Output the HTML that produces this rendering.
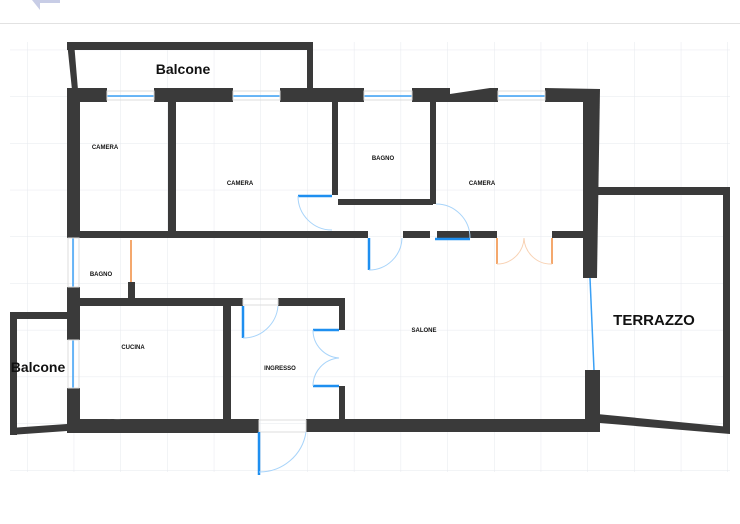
<!DOCTYPE html>
<html><head><style>
html,body{margin:0;padding:0;background:#fff;}
svg{display:block;}
.t{font-family:"Liberation Sans",sans-serif;font-weight:bold;fill:#111;text-anchor:middle;}
.s{font-size:6px;}
</style></head><body>
<svg width="740" height="524" viewBox="0 0 740 524" xmlns="http://www.w3.org/2000/svg">
<defs>
<pattern id="g" x="27" y="3" width="46.7" height="46.7" patternUnits="userSpaceOnUse">
<path d="M0 0V46.7M0 0H46.7" stroke="#e6e8ee" stroke-width="1" fill="none"/>
</pattern>
</defs>
<rect width="740" height="524" fill="#fff"/>
<line x1="0" y1="23.5" x2="740" y2="23.5" stroke="#e2e2e2"/>
<path d="M32 0 L60 0 L60 3 L40 3 L40 10 Z" fill="#c8cde6"/>
<rect x="10" y="42" width="720" height="430" fill="url(#g)"/>
<g fill="#3a3a3a">
<!-- top balcony -->
<rect x="67" y="42" width="246" height="8"/>
<polygon points="67,42 74,42 78,90 72,90"/>
<rect x="307" y="42" width="6" height="48"/>
<!-- top wall -->
<rect x="67" y="88" width="40" height="14"/>
<rect x="154" y="88" width="79" height="14"/>
<rect x="280" y="88" width="84" height="14"/>
<rect x="412" y="88" width="38" height="14"/>
<polygon points="450,94 490,88 498,88 498,102 450,102"/>
<polygon points="545,88 600,89 597,102 545,102"/>
<!-- right outer wall -->
<polygon points="587,89 600,89 597,278 583,278 583,100"/>
<rect x="585" y="370" width="15" height="50"/>
<!-- terrace -->
<rect x="597" y="187" width="133" height="8"/>
<rect x="723" y="187" width="7" height="246"/>
<polygon points="597,414 730,427 730,434 600,423"/>
<!-- interior -->
<rect x="168" y="102" width="8" height="134"/>
<rect x="332" y="102" width="6" height="93"/>
<rect x="338" y="199" width="95" height="6"/>
<rect x="430" y="102" width="6" height="102"/>
<rect x="67" y="231" width="301" height="7"/>
<rect x="403" y="231" width="27" height="7"/>
<rect x="437" y="231" width="60" height="7"/>
<rect x="552" y="231" width="33" height="7"/>
<!-- left wall -->
<rect x="67" y="102" width="13" height="134"/>
<rect x="67" y="287" width="13" height="53"/>
<rect x="67" y="388" width="13" height="45"/>
<rect x="128" y="282" width="7" height="18"/>
<rect x="67" y="298" width="176" height="8"/>
<rect x="278" y="298" width="67" height="8"/>
<rect x="223" y="298" width="8" height="134"/>
<rect x="339" y="298" width="6" height="32"/>
<rect x="339" y="386" width="6" height="36"/>
<!-- bottom -->
<polygon points="67,419 120,419 80,422 80,433 67,433"/>
<polygon points="80,421 122,419 259,419 259,433 80,433"/>
<rect x="306" y="419" width="294" height="13"/>
<!-- left balcony -->
<rect x="10" y="312" width="57" height="7"/>
<rect x="10" y="312" width="7" height="123"/>
<polygon points="10,428 67,424 67,431 10,435"/>
</g>
<!-- windows -->
<g stroke="#3aa0f5" stroke-width="1.5" fill="none">
<line x1="107" y1="96" x2="154" y2="96"/>
<line x1="233" y1="96" x2="280" y2="96"/>
<line x1="364" y1="96" x2="412" y2="96"/>
<line x1="498" y1="96" x2="545" y2="96"/>
<line x1="73" y1="238" x2="73" y2="287"/>
<line x1="73" y1="340" x2="73" y2="388"/>
<line x1="590" y1="278" x2="594" y2="370"/>
</g>
<g stroke="#dcdcdc" stroke-width="1" fill="none">
<rect x="107" y="91" width="47" height="9"/>
<rect x="233" y="91" width="47" height="9"/>
<rect x="364" y="91" width="48" height="9"/>
<rect x="498" y="91" width="47" height="9"/>
<rect x="68" y="238" width="11" height="49"/>
<rect x="68" y="340" width="11" height="48"/>
<rect x="259" y="420" width="47" height="12"/>
<rect x="243" y="299" width="35" height="6"/>
</g>
<!-- doors -->
<g stroke="#1e8ff0" stroke-width="2.5" fill="none">
<line x1="298" y1="196" x2="332" y2="196"/>
<line x1="369" y1="238" x2="369" y2="270"/>
<line x1="435" y1="239" x2="470" y2="239"/>
<line x1="243" y1="306" x2="243" y2="338"/>
<line x1="313" y1="330" x2="339" y2="330"/>
<line x1="313" y1="386" x2="339" y2="386"/>
<line x1="259" y1="432" x2="259" y2="475"/>
</g>
<g stroke="#a8d4fa" stroke-width="1" fill="none">
<path d="M298 196 A34 34 0 0 0 332 230"/>
<path d="M369 270 A33 33 0 0 0 402 238"/>
<path d="M436 204 A34 34 0 0 1 470 238"/>
<path d="M243 338 A35 35 0 0 0 278 306"/>
<path d="M313 330 A28 28 0 0 0 339 358 A28 28 0 0 0 313 386"/>
<path d="M259 472 A47 47 0 0 0 306 432"/>
</g>
<g stroke="#f08a3c" stroke-width="1.5" fill="none">
<line x1="497" y1="238" x2="497" y2="264"/>
<line x1="552" y1="238" x2="552" y2="264"/>
<line x1="131" y1="240" x2="131" y2="282"/>
</g>
<path d="M497 264 A27 27 0 0 0 524 238 A27 27 0 0 0 552 264" stroke="#f8d2b4" stroke-width="1" fill="none"/>
<!-- labels -->
<text class="t" x="183" y="74" font-size="14">Balcone</text>
<text class="t" x="38" y="372" font-size="14">Balcone</text>
<text class="t" x="654" y="325" font-size="15">TERRAZZO</text>
<text class="t s" x="105" y="149">CAMERA</text>
<text class="t s" x="240" y="185">CAMERA</text>
<text class="t s" x="482" y="185">CAMERA</text>
<text class="t s" x="383" y="160">BAGNO</text>
<text class="t s" x="101" y="276">BAGNO</text>
<text class="t s" x="133" y="349">CUCINA</text>
<text class="t s" x="280" y="370">INGRESSO</text>
<text class="t s" x="424" y="332">SALONE</text>
</svg>
</body></html>
